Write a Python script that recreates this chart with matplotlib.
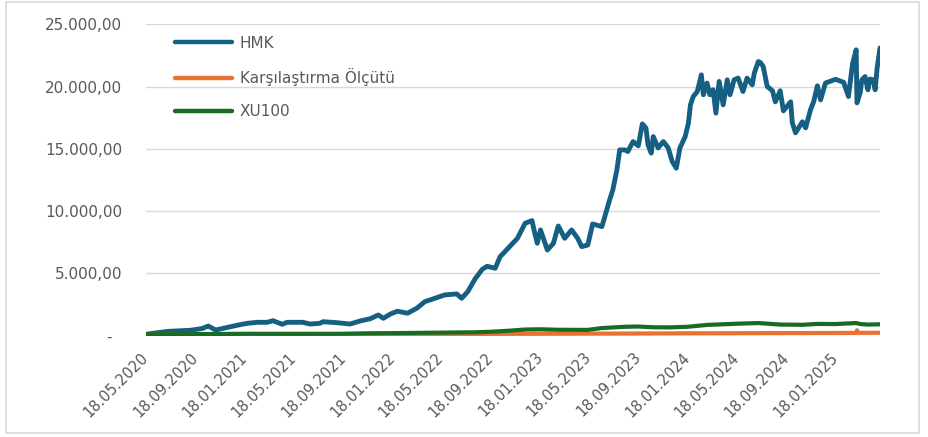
import matplotlib
matplotlib.use("Agg")
import matplotlib.pyplot as plt
from matplotlib.patches import Rectangle
from matplotlib.ticker import FuncFormatter, MultipleLocator
import pandas as pd

# HMK fund value (normalised to 100 at start)
hmk_dates = [
    "2020-05-18", "2020-07-11", "2020-09-05", "2020-10-04", "2020-10-19", "2020-11-06",
    "2020-12-01", "2021-01-01", "2021-01-24", "2021-02-18", "2021-03-14", "2021-03-28",
    "2021-04-20", "2021-05-02", "2021-06-10", "2021-06-28", "2021-07-22", "2021-07-30",
    "2021-09-02", "2021-10-05", "2021-10-30", "2021-11-24", "2021-12-14", "2021-12-26",
    "2022-01-13", "2022-01-30", "2022-02-24", "2022-03-19", "2022-04-08", "2022-05-03",
    "2022-05-27", "2022-06-26", "2022-07-08", "2022-07-23", "2022-08-10", "2022-08-28",
    "2022-09-09", "2022-09-29", "2022-10-11", "2022-10-31", "2022-11-23", "2022-12-12",
    "2022-12-29", "2023-01-03", "2023-01-11", "2023-01-19", "2023-02-05", "2023-02-20",
    "2023-03-04", "2023-03-20", "2023-04-06", "2023-04-21", "2023-05-01", "2023-05-16",
    "2023-05-28", "2023-06-20", "2023-07-09", "2023-07-17", "2023-07-27", "2023-08-03",
    "2023-08-16", "2023-08-23", "2023-09-05", "2023-09-18", "2023-09-28", "2023-10-07",
    "2023-10-12", "2023-10-20", "2023-10-25", "2023-11-06", "2023-11-19", "2023-12-01",
    "2023-12-11", "2023-12-21", "2023-12-30", "2024-01-12", "2024-01-20", "2024-01-25",
    "2024-02-01", "2024-02-11", "2024-02-21", "2024-02-26", "2024-03-06", "2024-03-13",
    "2024-03-21", "2024-03-28", "2024-04-05", "2024-04-15", "2024-04-25", "2024-05-02",
    "2024-05-12", "2024-05-22", "2024-06-03", "2024-06-13", "2024-06-26", "2024-07-01",
    "2024-07-11", "2024-07-16", "2024-07-23", "2024-08-02", "2024-08-15", "2024-08-22",
    "2024-09-03", "2024-09-11", "2024-09-29", "2024-10-03", "2024-10-11", "2024-10-28",
    "2024-11-05", "2024-11-17", "2024-11-25", "2024-12-04", "2024-12-12", "2024-12-24",
    "2025-01-18", "2025-02-07", "2025-02-19", "2025-03-01", "2025-03-10", "2025-03-12",
    "2025-03-20", "2025-03-24", "2025-04-01", "2025-04-08", "2025-04-13", "2025-04-21",
    "2025-04-26", "2025-05-01", "2025-05-08",
]
hmk_values = [
    100, 330, 420, 560, 760, 440,
    620, 840, 980, 1060, 1060, 1190,
    900, 1060, 1060, 920, 980, 1110,
    1030, 920, 1170, 1350, 1650, 1380,
    1730, 1950, 1790, 2190, 2720, 2990,
    3260, 3340, 2990, 3520, 4540, 5320,
    5560, 5400, 6330, 7010, 7810, 9020,
    9230, 8480, 7410, 8480, 6870, 7410,
    8800, 7810, 8480, 7810, 7140, 7270,
    8960, 8750, 10890, 11700, 13300, 14910,
    14910, 14780, 15580, 15240, 17000, 16660,
    15320, 14650, 15980, 15070, 15580, 15070,
    13970, 13440, 15070, 15980, 17060, 18530,
    19200, 19600, 20940, 19340, 20280, 19340,
    19740, 17870, 20410, 18530, 20540, 19340,
    20540, 20680, 19600, 20680, 20140, 21080,
    22010, 21930, 21610, 20000, 19660, 18770,
    19660, 18050, 18770, 17090, 16280, 17170,
    16680, 18130, 18800, 20060, 18930, 20280,
    20580, 20340, 19200, 21830, 22950, 18690,
    19500, 20540, 20800, 19740, 20600, 20540,
    19740, 21510, 23100,
]

# Benchmark (Karşılaştırma Ölçütü)
bench_dates = [
    "2020-05-18", "2021-01-18", "2021-09-18", "2022-01-18", "2022-05-18", "2022-09-18",
    "2023-01-18", "2023-05-18", "2023-09-18", "2024-01-18", "2024-05-18", "2024-09-18",
    "2025-01-18", "2025-03-10", "2025-03-12", "2025-03-14", "2025-05-08",
]
bench_values = [
    100, 105, 110, 115, 120, 130,
    140, 150, 160, 175, 185, 195,
    205, 210, 420, 215, 220,
]

# BIST 100 (normalised to 100 at start)
xu100_dates = [
    "2020-05-18", "2020-09-18", "2021-01-18", "2021-05-18", "2021-09-18", "2021-11-24",
    "2022-01-18", "2022-05-18", "2022-08-10", "2022-09-18", "2022-10-31", "2022-12-12",
    "2023-01-19", "2023-03-04", "2023-05-16", "2023-06-20", "2023-08-16", "2023-09-18",
    "2023-10-25", "2023-12-01", "2024-01-18", "2024-03-06", "2024-05-22", "2024-07-11",
    "2024-09-03", "2024-10-28", "2024-12-04", "2025-01-18", "2025-03-10", "2025-03-20",
    "2025-04-08", "2025-05-08",
]
xu100_values = [
    100, 110, 140, 135, 140, 180,
    190, 230, 260, 300, 380, 480,
    500, 460, 450, 600, 700, 720,
    660, 650, 700, 850, 950, 1000,
    880, 860, 930, 920, 1000, 920,
    880, 900,
]

tick_labels = [
    "18.05.2020", "18.09.2020", "18.01.2021", "18.05.2021", "18.09.2021",
    "18.01.2022", "18.05.2022", "18.09.2022", "18.01.2023", "18.05.2023",
    "18.09.2023", "18.01.2024", "18.05.2024", "18.09.2024", "18.01.2025",
]

BLUE = "#156082"
ORANGE = "#E97132"
GREEN = "#196B24"
TEXT = "#595959"
GRID = "#D9D9D9"

plt.rcParams["font.family"] = ["DejaVu Sans"]

fig = plt.figure(figsize=(9.29, 4.37), dpi=100)
ax = fig.add_axes([146 / 929, 1 - 335.5 / 437, (880 - 146) / 929, (335.5 - 24.3) / 437])

hmk_x = pd.to_datetime(hmk_dates)
ax.plot(hmk_x, hmk_values, color=BLUE, lw=3.5, label="HMK", solid_joinstyle="round", solid_capstyle="round")
ax.plot(pd.to_datetime(bench_dates), bench_values, color=ORANGE, lw=3.0,
        label="Karşılaştırma Ölçütü", solid_joinstyle="round")
ax.plot(pd.to_datetime(xu100_dates), xu100_values, color=GREEN, lw=3.0,
        label="XU100", solid_joinstyle="round")

ax.set_xlim(hmk_x[0], hmk_x[-1])
ax.set_ylim(0, 25000)
ax.yaxis.set_major_locator(MultipleLocator(5000))


def tl_format(v, pos):
    if v == 0:
        return "-  "
    s = f"{v:,.2f}"
    return s.replace(",", "X").replace(".", ",").replace("X", ".")


ax.yaxis.set_major_formatter(FuncFormatter(tl_format))
ax.grid(axis="y", color=GRID, lw=1.0)
ax.set_axisbelow(True)
for side in ["top", "right", "left", "bottom"]:
    ax.spines[side].set_visible(False)

ticks = pd.to_datetime(tick_labels, format="%d.%m.%Y")
ax.set_xticks(ticks)
ax.set_xticklabels(tick_labels, rotation=45, ha="right", va="center", rotation_mode="anchor")
ax.tick_params(axis="x", length=0, pad=14, labelsize=10.5, labelcolor=TEXT)
ax.tick_params(axis="y", length=0, pad=17, labelsize=11, labelcolor=TEXT)

leg = ax.legend(loc="upper left", bbox_to_anchor=(0.04, 0.963), frameon=False,
                fontsize=11, labelcolor=TEXT, handlelength=3.7, handletextpad=0.5,
                labelspacing=1.15, borderaxespad=0, borderpad=0)
for line in leg.get_lines():
    line.set_linewidth(3.2)
    line.set_solid_capstyle("round")

fig.patches.append(Rectangle((6 / 929, 4 / 437), (919 - 6) / 929, (435 - 4) / 437,
                             transform=fig.transFigure, fill=False, edgecolor=GRID, lw=1.2))

fig.savefig("out.png", dpi=100)
